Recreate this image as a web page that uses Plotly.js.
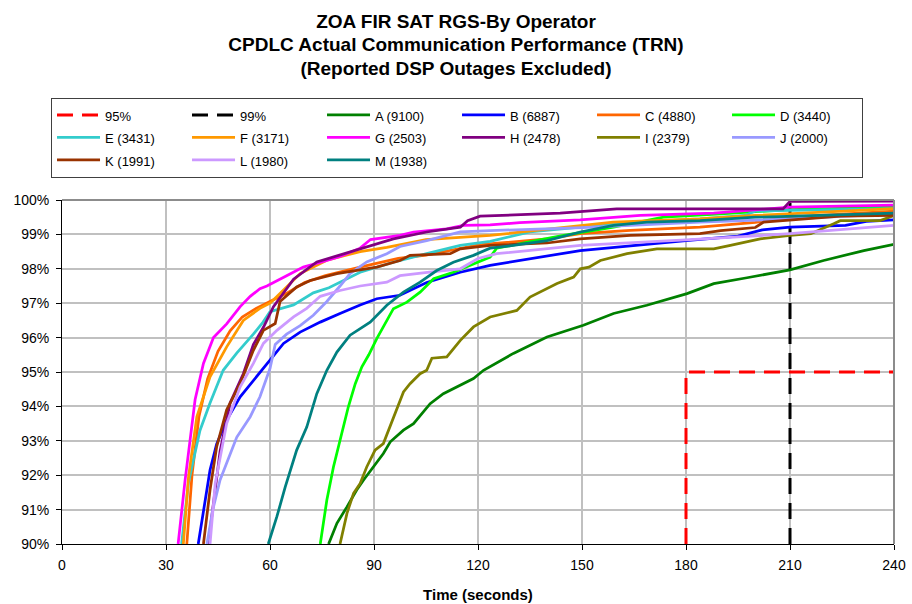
<!DOCTYPE html>
<html><head><meta charset="utf-8">
<script src="https://cdn.plot.ly/plotly-3.0.1.min.js"></script>
<style>body{margin:0;background:#fff}#chart{width:912px;height:604px}</style>
</head><body><div id="chart"></div>
<script>
// Reference lines
const x95 = [180, 180, 240];
const y95 = [90, 95, 95];
const x99 = [210, 210, 240];
const y99 = [90, 100, 100];

// Operators
const tA = [76.9,79.3,82.2,85,87,89.8,92.7,94.7,98.5,101.4,106.2,110,114.9,118.7,121.6,130.2,139.9,150.4,159.1,168.7,180.3,188,197.6,210,219.7,231.3,240];
const pA = [90,90.6,91.08,91.57,91.86,92.24,92.63,92.97,93.31,93.5,94.08,94.37,94.62,94.81,95.05,95.54,96.02,96.36,96.7,96.94,97.28,97.57,97.74,97.97,98.24,98.53,98.71];

const tB = [39.3,40.8,42.7,44.6,47.5,51.4,55.2,60,63.9,68.7,74.5,80.2,86,90.8,97.5,105.2,114.9,123.5,149.5,180,195,202,210,226,232,240];
const pB = [90,91.0,92.15,92.9,93.6,94.28,94.76,95.34,95.83,96.16,96.45,96.7,96.95,97.13,97.23,97.6,97.9,98.1,98.53,98.82,98.95,99.13,99.21,99.26,99.38,99.42];

const tC = [36,37.5,39.5,42,45,48.5,52,56,60,65,70,76,86,97,105,120.6,139.9,149.5,163.9,184,200,210,240];
const pC = [90,92,93.7,94.8,95.6,96.2,96.6,96.85,97.05,97.3,97.6,97.8,98.05,98.3,98.4,98.7,98.87,99.02,99.12,99.21,99.35,99.5,99.68];

const tD = [74.5,76.4,78.3,80.7,82.6,84.6,86.5,88.5,90.8,95.6,99.5,103.3,107.2,112.9,118.7,123.5,125.4,135,144.7,159.1,173.5,190,210,240];
const pD = [90,91.28,92.24,93.21,93.99,94.66,95.15,95.5,95.97,96.84,97.03,97.32,97.71,97.9,98.15,98.34,98.6,98.78,98.97,99.21,99.5,99.6,99.72,99.8];

const tE = [34.5,36.5,39.8,42.7,46.5,50.4,55.2,58,60,66.8,72.5,77,86,95.6,105.2,114.9,123.5,135,149.5,165,184,197,200,240];
const pE = [90,91.8,93.3,94.1,95.05,95.55,96.1,96.45,96.75,96.95,97.3,97.45,97.9,98.19,98.44,98.68,98.8,99.07,99.21,99.35,99.45,99.55,99.68,99.75];

const tF = [35,36.5,38.9,42.7,47.5,52.3,57.1,60,64.8,68.7,76.4,86,93.7,105,123.5,140,159,184,200,240];
const pF = [90,91.95,93.7,94.86,95.73,96.5,96.85,97.0,97.47,97.86,98.25,98.5,98.62,98.85,98.97,99.15,99.36,99.45,99.55,99.75];

const tG = [33.5,35.5,38.4,40.8,43.7,47.5,51.4,54.3,57.1,59.1,64.8,69.6,76.4,80,86,89,97.5,101.4,111,115.8,123.5,132,149.5,166.8,188,200,210,240];
const pG = [90,91.85,94.2,95.25,96.0,96.4,96.9,97.2,97.42,97.5,97.8,98.05,98.24,98.35,98.6,98.85,98.97,99.07,99.16,99.26,99.28,99.34,99.42,99.55,99.62,99.72,99.79,99.85];

const tH = [42.2,43.7,45.6,48.5,52.3,55.2,58.1,61,66.8,73.5,81.2,86,95.6,105.2,114.9,117,120.6,143.7,160,208,210,240];
const pH = [90,91.2,92.7,94.1,94.95,95.8,96.3,96.9,97.7,98.2,98.44,98.58,98.87,99.07,99.21,99.4,99.53,99.62,99.74,99.74,99.96,99.97];

const tI = [80.2,82.2,84.1,86,87.9,90.3,92.7,94.2,96.6,98.5,100.4,103.3,105.2,106.7,111,114.9,118.7,123.5,131.2,135,142.8,147.6,149.5,152,155.3,163,171.6,188,192.8,201.4,210,216,222.6,224.5,236,240];
const pI = [90,90.89,91.47,91.76,92.24,92.73,92.92,93.31,93.89,94.42,94.66,94.95,95.05,95.4,95.44,95.92,96.31,96.6,96.79,97.18,97.57,97.76,98.0,98.05,98.24,98.44,98.58,98.58,98.68,98.87,98.97,99.02,99.31,99.4,99.4,99.55];

const tJ = [41.8,43.5,45.6,50.4,54.3,57.1,60,61.5,64.8,68.7,72.5,76.4,80.2,83.1,87.9,93.7,97.5,105.2,114.9,123.5,150,184,210,240];
const pJ = [90,91,91.86,93.1,93.7,94.28,95.1,95.8,96.1,96.35,96.65,97.05,97.5,97.86,98.2,98.44,98.65,98.82,99.07,99.11,99.2,99.36,99.45,99.6];

const tK = [40.8,42.7,44.6,47.5,51.4,55.2,58.1,61.5,62.9,67.7,71.6,79.3,90.8,97.5,100.4,112,114.9,123.5,139.9,149.5,163.9,184,190,200,202.4,224.5,240];
const pK = [90,91.57,92.82,93.9,94.66,95.63,96.21,96.41,97.05,97.47,97.66,97.86,98.05,98.24,98.39,98.44,98.58,98.68,98.75,98.87,98.97,99.02,99.11,99.2,99.36,99.53,99.55];

const tL = [42.7,44.2,47.5,51.4,55.2,58.1,62,66.8,70.6,74.5,80.2,86,93.7,97.5,106,114.9,120,125.4,149.5,180,210,226.5,240];
const pL = [90,91.76,93.5,94.57,95.25,95.83,96.21,96.6,96.85,97.2,97.37,97.5,97.61,97.8,97.9,98.0,98.3,98.44,98.68,98.84,99.02,99.16,99.26];

const tM = [59.5,62,64.4,67.7,70.6,73.5,76.4,79.3,83.1,88.9,93.7,98.5,103.3,108.1,112.9,118.7,123.5,130.2,139.9,149.5,159.1,168.7,184,200,240];
const pM = [90,90.8,91.66,92.73,93.4,94.37,95.05,95.58,96.07,96.45,96.94,97.32,97.61,97.95,98.19,98.39,98.6,98.68,98.82,99.07,99.26,99.36,99.4,99.5,99.62];

const seriesNames = ['A (9100)','B (6887)','C (4880)','D (3440)','E (3431)','F (3171)','G (2503)','H (2478)','I (2379)','J (2000)','K (1991)','L (1980)','M (1938)'];
const seriesT = [tA,tB,tC,tD,tE,tF,tG,tH,tI,tJ,tK,tL,tM];
const seriesP = [pA,pB,pC,pD,pE,pF,pG,pH,pI,pJ,pK,pL,pM];
const seriesColors = ['#008000','#0000ff','#ff6600','#00ff00','#33cccc','#ff9900','#ff00ff','#800080','#808000','#9999ff','#993300','#cc99ff','#008080'];

const xTicks = [0,30,60,90,120,150,180,210,240];
const yTicks = [90,91,92,93,94,95,96,97,98,99,100];
const yTickText = yTicks.map(v => v + '%');

const FONT = 'Arial, "Liberation Sans", sans-serif';
const lab = s => '<span style="font-size:13px">' + s + '</span>';
const tl = s => '<span style="font-size:19px">' + s + '</span>';

const traces = [
  {x: x95, y: y95, mode: 'lines', name: lab('95%'), line: {color: '#ff0000', width: 3, dash: '16px,9px'}},
  {x: x99, y: y99, mode: 'lines', name: lab('99%'), line: {color: '#000000', width: 3, dash: '16px,9px'}}
];
seriesNames.forEach((n, i) => {
  traces.push({x: seriesT[i], y: seriesP[i], mode: 'lines', name: lab(n),
    line: {color: seriesColors[i], width: 2.75}});
});

const layout = {
  width: 912, height: 604,
  paper_bgcolor: '#ffffff', plot_bgcolor: '#ffffff',
  font: {family: FONT, size: 13, color: '#000'},
  margin: {l: 62, r: 18, t: 200, b: 60, autoexpand: false},
  title: {
    text: '<b>' + tl('ZOA FIR SAT RGS-By Operator') + '<br>' + tl('CPDLC Actual Communication Performance (TRN)') + '<br>' + tl('(Reported DSP Outages Excluded)') + '</b>',
    font: {family: FONT, size: 18, color: '#000'},
    x: 0.5, xanchor: 'center', y: 0.9535, yanchor: 'top'
  },
  showlegend: true,
  legend: {
    orientation: 'h', x: -0.0132, xanchor: 'left', y: 1.2975, yanchor: 'top',
    bgcolor: '#ffffff', bordercolor: '#404040', borderwidth: 1,
    font: {family: FONT, size: 15, color: '#000'},
    entrywidth: 77, entrywidthmode: 'pixels', itemwidth: 43
  },
  xaxis: {
    range: [0, 240], tickvals: xTicks, ticktext: xTicks.map(String),
    showgrid: true, gridcolor: '#c0c0c0', gridwidth: 2,
    showline: true, linecolor: '#000', linewidth: 1,
    ticks: 'outside', ticklen: 5, tickcolor: '#000', ticklabelstandoff: 3,
    zeroline: false, tickfont: {size: 14},
    title: {text: '<b>Time (seconds)</b>', font: {size: 15}, standoff: 17}
  },
  yaxis: {
    range: [90, 100], tickvals: yTicks, ticktext: yTickText,
    showgrid: true, gridcolor: '#c0c0c0', gridwidth: 2,
    showline: true, linecolor: '#000', linewidth: 1,
    ticks: 'outside', ticklen: 5, tickcolor: '#000', ticklabelstandoff: 4,
    zeroline: false, tickfont: {size: 14}
  },
  shapes: [
    {type: 'line', xref: 'paper', yref: 'paper', x0: 0, x1: 1, y0: 1, y1: 1, line: {color: '#8c8c8c', width: 2}},
    {type: 'line', xref: 'paper', yref: 'paper', x0: 1, x1: 1, y0: 0, y1: 1, line: {color: '#8c8c8c', width: 2}}
  ]
};

Plotly.newPlot('chart', traces, layout, {displayModeBar: false, staticPlot: true});
</script>
</body></html>
